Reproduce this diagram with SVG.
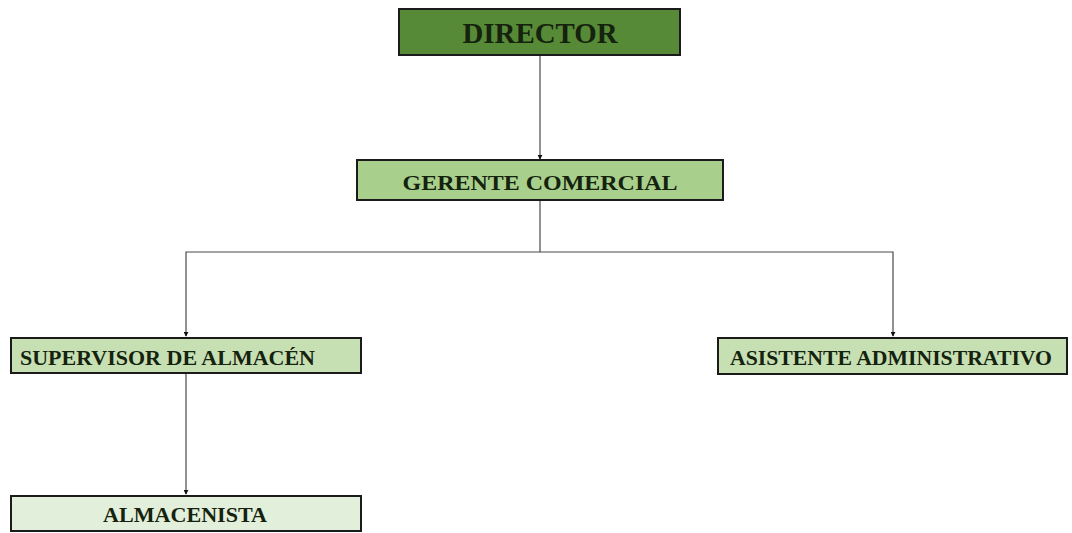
<svg xmlns="http://www.w3.org/2000/svg" width="1072" height="533" viewBox="0 0 1072 533">
<style>
.box{stroke:#1b1b1b;stroke-width:2}
.t{font-family:"Liberation Serif","Times New Roman",serif;font-weight:bold;fill:#15220e}
.c{fill:none;stroke:#4a4a4a;stroke-width:1.2}
</style>
<defs>
<marker id="ah" viewBox="0 0 6 6" refX="5" refY="3" markerWidth="5" markerHeight="5" orient="auto" markerUnits="userSpaceOnUse">
<path d="M0,0 L6,3 L0,6 Z" fill="#111"/>
</marker>
</defs>
<rect width="1072" height="533" fill="#fff"/>
<g id="connectors">
<path class="c" d="M540,55 V159" marker-end="url(#ah)"/>
<path class="c" d="M540,200 V252 H186 V336" marker-end="url(#ah)"/>
<path class="c" d="M540,252 H893 V336" marker-end="url(#ah)"/>
<path class="c" d="M186,373 V494" marker-end="url(#ah)"/>
</g>
<g id="director">
<rect class="box" x="399" y="9" width="281" height="46" fill="#578a36"/>
<text class="t" x="540" y="43" font-size="29" text-anchor="middle" textLength="155" lengthAdjust="spacingAndGlyphs">DIRECTOR</text>
</g>
<g id="gerente">
<rect class="box" x="357" y="160" width="366" height="40" fill="#a8d08c"/>
<text class="t" x="540" y="190" font-size="22" text-anchor="middle" textLength="275" lengthAdjust="spacingAndGlyphs">GERENTE COMERCIAL</text>
</g>
<g id="supervisor">
<rect class="box" x="11" y="338" width="350" height="35" fill="#c6e0b4"/>
<text class="t" x="20" y="365" font-size="21" textLength="295" lengthAdjust="spacingAndGlyphs">SUPERVISOR DE ALMACÉN</text>
</g>
<g id="asistente">
<rect class="box" x="718" y="338" width="349" height="36" fill="#c6e0b4"/>
<text class="t" x="891" y="365" font-size="21" text-anchor="middle" textLength="322" lengthAdjust="spacingAndGlyphs">ASISTENTE ADMINISTRATIVO</text>
</g>
<g id="almacenista">
<rect class="box" x="11" y="496" width="350" height="35" fill="#e2efda"/>
<text class="t" x="185" y="522" font-size="21" text-anchor="middle" textLength="164" lengthAdjust="spacingAndGlyphs">ALMACENISTA</text>
</g>
</svg>
